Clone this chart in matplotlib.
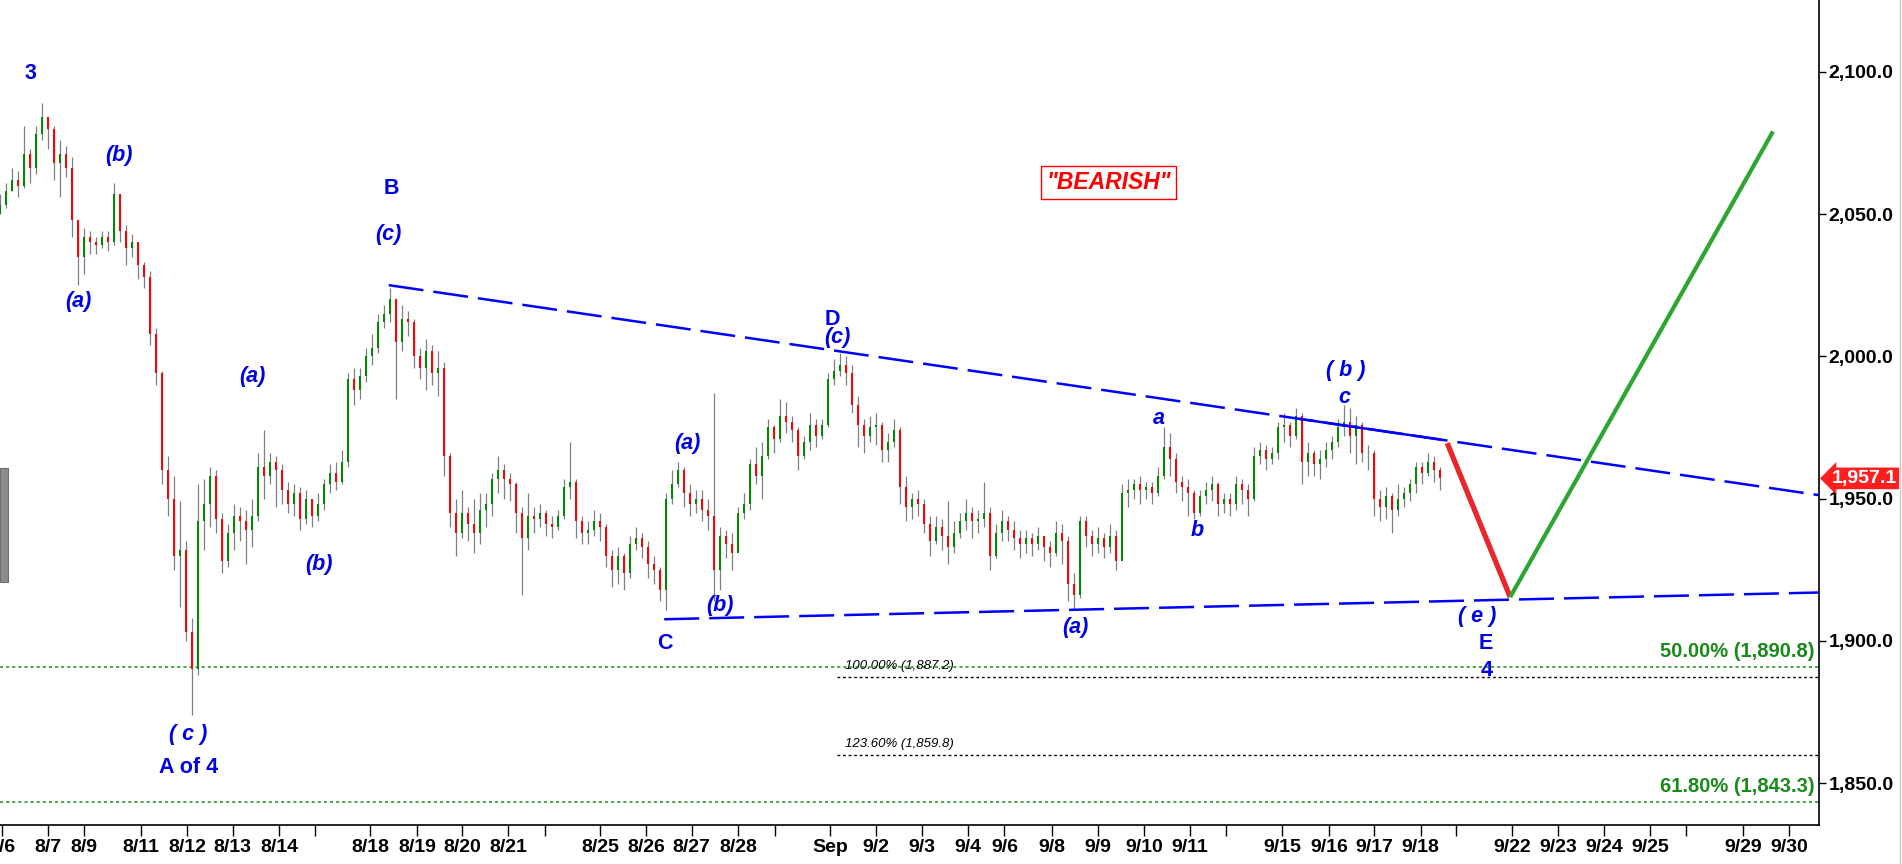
import numpy as np
import matplotlib
matplotlib.use("Agg")
from matplotlib import pyplot as plt
from matplotlib.lines import Line2D
from matplotlib.patches import Rectangle

# Candles (one slot ~ 1/8 of a session)
close = [2053, 2058, 2062, 2060, 2071, 2066, 2078, 2084, 2080, 2068,
         2071, 2066, 2048, 2035, 2042, 2040, 2039, 2042, 2040, 2057,
         2044, 2038, 2040, 2032, 2028, 2008, 1994, 1960, 1950, 1930,
         1932, 1903, 1890, 1942, 1948, 1958, 1943, 1928, 1938, 1944,
         1942, 1939, 1944, 1961, 1958, 1963, 1960, 1953, 1948, 1952,
         1943, 1950, 1944, 1948, 1955, 1959, 1956, 1963, 1992, 1988,
         1993, 2000, 2003, 2012, 2015, 2020, 2005, 2013, 2012, 2000,
         1996, 2002, 1994, 1996, 1965, 1945, 1938, 1945, 1941, 1938,
         1946, 1948, 1957, 1960, 1957, 1955, 1945, 1936, 1944, 1943,
         1945, 1941, 1940, 1944, 1954, 1956, 1942, 1938, 1939, 1942,
         1940, 1930, 1925, 1930, 1924, 1934, 1936, 1933, 1927, 1925,
         1918, 1950, 1955, 1960, 1952, 1948, 1950, 1946, 1944, 1925,
         1937, 1934, 1931, 1945, 1948, 1962, 1958, 1965, 1975, 1971,
         1979, 1977, 1974, 1965, 1970, 1976, 1972, 1976, 1992, 1995,
         1997, 1994, 1983, 1976, 1972, 1975, 1976, 1967, 1970, 1974,
         1954, 1947, 1950, 1948, 1941, 1935, 1940, 1937, 1933, 1938,
         1942, 1945, 1942, 1943, 1945, 1930, 1938, 1942, 1939, 1936,
         1934, 1936, 1934, 1937, 1933, 1931, 1938, 1935, 1920, 1916,
         1942, 1937, 1934, 1936, 1933, 1937, 1928, 1952, 1953, 1955,
         1953, 1954, 1952, 1958, 1968, 1964, 1956, 1954, 1952, 1945,
         1951, 1953, 1955, 1948, 1950, 1948, 1955, 1953, 1950, 1965,
         1967, 1964, 1966, 1975, 1976, 1972, 1979, 1963, 1966, 1962,
         1964, 1967, 1970, 1975, 1977, 1972, 1976, 1966, 1966, 1950,
         1947, 1951, 1946, 1950, 1952, 1955, 1961, 1959, 1963, 1960,
         1957.1]
high = [2057, 2061, 2066, 2065, 2081, 2073, 2081, 2089, 2084, 2081,
        2076, 2074, 2070, 2048, 2045, 2044, 2042, 2044, 2044, 2061,
        2053, 2046, 2043, 2038, 2033, 2030, 2010, 1995, 1965, 1958,
        1949, 1935, 1908, 1955, 1957, 1961, 1960, 1945, 1941, 1948,
        1947, 1946, 1950, 1966, 1974, 1966, 1965, 1962, 1956, 1955,
        1954, 1953, 1950, 1952, 1957, 1962, 1963, 1967, 1994, 1996,
        1996, 2003, 2008, 2015, 2018, 2024, 2020, 2018, 2016, 2013,
        2003, 2006, 2004, 2002, 1998, 1966, 1950, 1953, 1947, 1950,
        1952, 1952, 1959, 1965, 1962, 1959, 1956, 1947, 1952, 1947,
        1948, 1946, 1944, 1946, 1957, 1970, 1957, 1944, 1942, 1946,
        1945, 1941, 1932, 1933, 1931, 1937, 1940, 1938, 1935, 1930,
        1926, 1952, 1960, 1963, 1961, 1955, 1953, 1953, 1950, 1987,
        1940, 1939, 1938, 1947, 1952, 1964, 1968, 1970, 1978, 1976,
        1985, 1984, 1979, 1975, 1972, 1980, 1978, 1978, 1994, 1999,
        2001, 2000, 1997, 1986, 1978, 1979, 1980, 1977, 1973, 1978,
        1975, 1958, 1952, 1953, 1950, 1944, 1944, 1943, 1949, 1942,
        1945, 1950, 1947, 1946, 1956, 1947, 1941, 1946, 1944, 1942,
        1939, 1939, 1938, 1940, 1936, 1935, 1942, 1941, 1937, 1924,
        1944, 1944, 1939, 1940, 1938, 1941, 1939, 1955, 1957, 1957,
        1958, 1956, 1956, 1961, 1975, 1973, 1966, 1958, 1957, 1953,
        1953, 1956, 1958, 1956, 1952, 1952, 1958, 1957, 1955, 1968,
        1970, 1969, 1968, 1977, 1980, 1977, 1982, 1980, 1970, 1967,
        1967, 1970, 1972, 1978, 1983, 1982, 1979, 1977, 1969, 1967,
        1953, 1954, 1952, 1955, 1954, 1957, 1963, 1963, 1966, 1965,
        1961]
low = [2050, 2052, 2058, 2056, 2059, 2061, 2064, 2076, 2073, 2062,
       2056, 2063, 2042, 2025, 2029, 2036, 2036, 2038, 2037, 2039,
       2040, 2032, 2035, 2027, 2024, 2004, 1990, 1955, 1944, 1925,
       1912, 1900, 1874, 1888, 1932, 1940, 1938, 1924, 1926, 1932,
       1935, 1927, 1933, 1942, 1950, 1955, 1947, 1948, 1945, 1944,
       1939, 1941, 1940, 1942, 1946, 1952, 1953, 1955, 1961, 1983,
       1985, 1991, 1997, 2001, 2010, 2012, 1985, 2002, 2007, 1996,
       1992, 1988, 1990, 1986, 1958, 1940, 1930, 1936, 1935, 1931,
       1934, 1940, 1944, 1952, 1950, 1949, 1938, 1916, 1932, 1938,
       1940, 1937, 1936, 1939, 1943, 1950, 1936, 1934, 1934, 1937,
       1935, 1926, 1919, 1920, 1918, 1922, 1932, 1929, 1922, 1920,
       1914, 1911, 1948, 1954, 1947, 1944, 1945, 1942, 1939, 1914,
       1918, 1929, 1925, 1932, 1943, 1946, 1955, 1950, 1964, 1966,
       1970, 1973, 1970, 1960, 1964, 1967, 1968, 1971, 1975, 1990,
       1993, 1990, 1980, 1968, 1966, 1970, 1969, 1963, 1963, 1968,
       1948, 1942, 1943, 1944, 1938, 1930, 1934, 1932, 1927, 1931,
       1936, 1939, 1936, 1938, 1940, 1925, 1929, 1935, 1935, 1932,
       1929, 1931, 1930, 1932, 1928, 1926, 1930, 1927, 1914, 1911,
       1915, 1933, 1930, 1931, 1929, 1931, 1925, 1929, 1947, 1950,
       1948, 1950, 1948, 1951, 1957, 1958, 1952, 1949, 1944, 1943,
       1944, 1948, 1949, 1944, 1945, 1944, 1946, 1948, 1944, 1949,
       1962, 1960, 1962, 1964, 1970, 1968, 1971, 1955, 1958, 1958,
       1957, 1961, 1964, 1968, 1972, 1966, 1962, 1963, 1960, 1944,
       1942, 1943, 1938, 1944, 1947, 1949, 1952, 1955, 1958, 1956,
       1953]
first_open = 2050

# session ticks (in candle slots)
tick_pos = [0.33, 8.0, 14.0, 23.5, 31.2, 38.8, 46.5, 52.5, 61.7, 69.5,
            77.0, 84.7, 90.8, 100.0, 107.7, 115.3, 123.0, 129.2, 138.3, 146.0,
            153.7, 161.3, 167.4, 175.3, 183.0, 190.7, 198.3, 204.3, 213.7, 221.5,
            229.0, 236.8, 242.7, 252.0, 259.7, 267.3, 275.0, 281.0, 290.5, 298.2]
tick_lab = ["8/6", "8/7", "8/9", "8/11", "8/12", "8/13", "8/14", "", "8/18", "8/19",
            "8/20", "8/21", "", "8/25", "8/26", "8/27", "8/28", "", "Sep", "9/2",
            "9/3", "9/4", "9/6", "9/8", "9/9", "9/10", "9/11", "", "9/15", "9/16",
            "9/17", "9/18", "", "9/22", "9/23", "9/24", "9/25", "", "9/29", "9/30"]
price_ticks = [1850, 1900, 1950, 2000, 2050, 2100]

# triangle lines and projected path
upper_x, upper_y = [64.8, 303.2], [2025.0, 1951.2]
lower_x, lower_y = [110.7, 303.2], [1907.6, 1917.0]
red_x, red_y = [241.2, 251.7], [1969.5, 1915.4]
green_x, green_y = [251.7, 295.5], [1915.4, 2079.0]

# fibonacci levels
fib_green = [1890.8, 1843.3]
fib_green_lab = ["50.00% (1,890.8)", "61.80% (1,843.3)"]
fib_black = [1887.2, 1859.8]
fib_black_lab = ["100.00% (1,887.2)", "123.60% (1,859.8)"]
last_price = 1957.1

BLUE = "#0000e6"
plt.rcParams['font.family'] = ['Liberation Sans', 'DejaVu Sans']

fig = plt.figure(figsize=(19.02, 8.64), dpi=100)
ax = fig.add_axes([0, 39 / 864, 1819 / 1902, 825 / 864])
ax.set_xlim(0, 303.17)
ax.set_ylim(1835.3, 2125.2)

# candles
close = np.array(close, dtype=float)
opens = np.r_[first_open, close[:-1]]
x = np.arange(len(close))
ax.vlines(x, low, high, color='#808080', lw=0.9, zorder=2)
up = close >= opens
ax.bar(x[up], close[up] - opens[up], bottom=opens[up], width=0.4,
       color='#008a00', linewidth=0, zorder=3)
ax.bar(x[~up], close[~up] - opens[~up], bottom=opens[~up], width=0.4,
       color='#ff0000', linewidth=0, zorder=3)

# fib lines
for lvl, lab in zip(fib_green, fib_green_lab):
    ax.axhline(lvl, color='#1a8a1a', lw=1.1, ls=(0, (2, 2)), zorder=1)
    ax.text(302.5, lvl + 2.2, lab, ha='right', va='bottom', color='#1a8a1a',
            fontsize=14.5, fontweight='bold')
for lvl, lab in zip(fib_black, fib_black_lab):
    ax.plot([139.5, 303.17], [lvl, lvl], color='black', lw=1.0, ls=(0, (2, 2)), zorder=1)
    ax.text(140.8, lvl + 1.8, lab, ha='left', va='bottom', color='black',
            fontsize=9.5, fontstyle='italic')

# triangle
ax.plot(upper_x, upper_y, color='#0000ff', lw=1.8, dashes=(14, 4), zorder=4)
ax.plot(lower_x, lower_y, color='#0000ff', lw=1.8, dashes=(14, 4), zorder=4)
seg_x = [216.7, 240.0]
seg_y = np.interp(seg_x, upper_x, upper_y)
ax.plot(seg_x, seg_y, color='#0000ff', lw=1.8, zorder=4)
ax.plot(red_x, red_y, color='#e8262b', lw=3.8, solid_capstyle='butt', zorder=5)
ax.plot(green_x, green_y, color='#2ca531', lw=3.0, solid_capstyle='butt', zorder=5)

# wave labels
labels = [
    ("3", 5.0, 2099.5, 'normal'), ("(b)", 19.8, 2070.7, 'italic'),
    ("(a)", 13.0, 2019.4, 'italic'), ("B", 65.3, 2059.1, 'normal'),
    ("(c)", 64.7, 2042.9, 'italic'), ("(a)", 42.0, 1993.0, 'italic'),
    ("(b)", 53.2, 1926.9, 'italic'), ("( c )", 31.3, 1867.2, 'italic'),
    ("A of 4", 31.5, 1855.6, 'normal'), ("D", 138.7, 2013.0, 'normal'),
    ("(c)", 139.6, 2006.5, 'italic'), ("(a)", 114.5, 1969.5, 'italic'),
    ("(b)", 120.0, 1912.5, 'italic'), ("C", 110.8, 1899.2, 'normal'),
    ("(a)", 179.2, 1904.8, 'italic'), ("a", 193.2, 1978.3, 'italic'),
    ("b", 199.5, 1938.9, 'italic'), ("( b )", 224.3, 1995.0, 'italic'),
    ("c", 224.0, 1985.5, 'italic'), ("( e )", 246.2, 1908.7, 'italic'),
    ("E", 247.7, 1899.2, 'normal'), ("4", 247.7, 1889.7, 'normal'),
]
for txt, lx, ly, st in labels:
    ax.text(lx, ly, txt, ha='center', va='center', color=BLUE, fontsize=15.5,
            fontweight='bold', fontstyle=st, zorder=6)

ax.text(184.8, 2061.0, '"BEARISH"', ha='center', va='center', color='#ff0000',
        fontsize=16.5, fontweight='bold', fontstyle='italic',
        bbox=dict(boxstyle='square,pad=0.22', fc='white', ec='#ff0000', lw=1))

# axes styling
for s in ['left', 'top']:
    ax.spines[s].set_visible(False)
ax.spines['right'].set_linewidth(1.2)
ax.spines['bottom'].set_linewidth(1.2)
ax.yaxis.tick_right()
ax.set_yticks(price_ticks)
ax.set_yticklabels([f"{p:,.1f}" for p in price_ticks])
ax.tick_params(axis='y', direction='out', length=5, width=1, pad=2, labelsize=14)
for t in ax.get_yticklabels():
    t.set_fontweight('bold')
ax.set_xticks(tick_pos)
ax.set_xticklabels(tick_lab)
ax.tick_params(axis='x', direction='out', length=8, width=1, pad=2)
for t in ax.get_xticklabels():
    t.set_fontweight('bold')
    t.set_fontsize(14)

# last price tag
ax.annotate(f"{last_price:,.1f}", xy=(1.0, last_price), xycoords=('axes fraction', 'data'),
            xytext=(9, 0), textcoords='offset points', ha='left', va='center',
            color='white', fontsize=14, fontweight='bold',
            bbox=dict(boxstyle='larrow,pad=0.12', fc='#ff1f1f', ec='none'))

# side tab and right border
fig.add_artist(Rectangle((0, 1 - 582 / 864), 8 / 1902, 114 / 864, transform=fig.transFigure,
                         fc='#8c8c8c', ec='#707070', lw=0.8))
fig.add_artist(Line2D([1900 / 1902] * 2, [0, 1], transform=fig.transFigure,
                      color='#c8c8c8', lw=1))

fig.savefig('out.png', dpi=100)
